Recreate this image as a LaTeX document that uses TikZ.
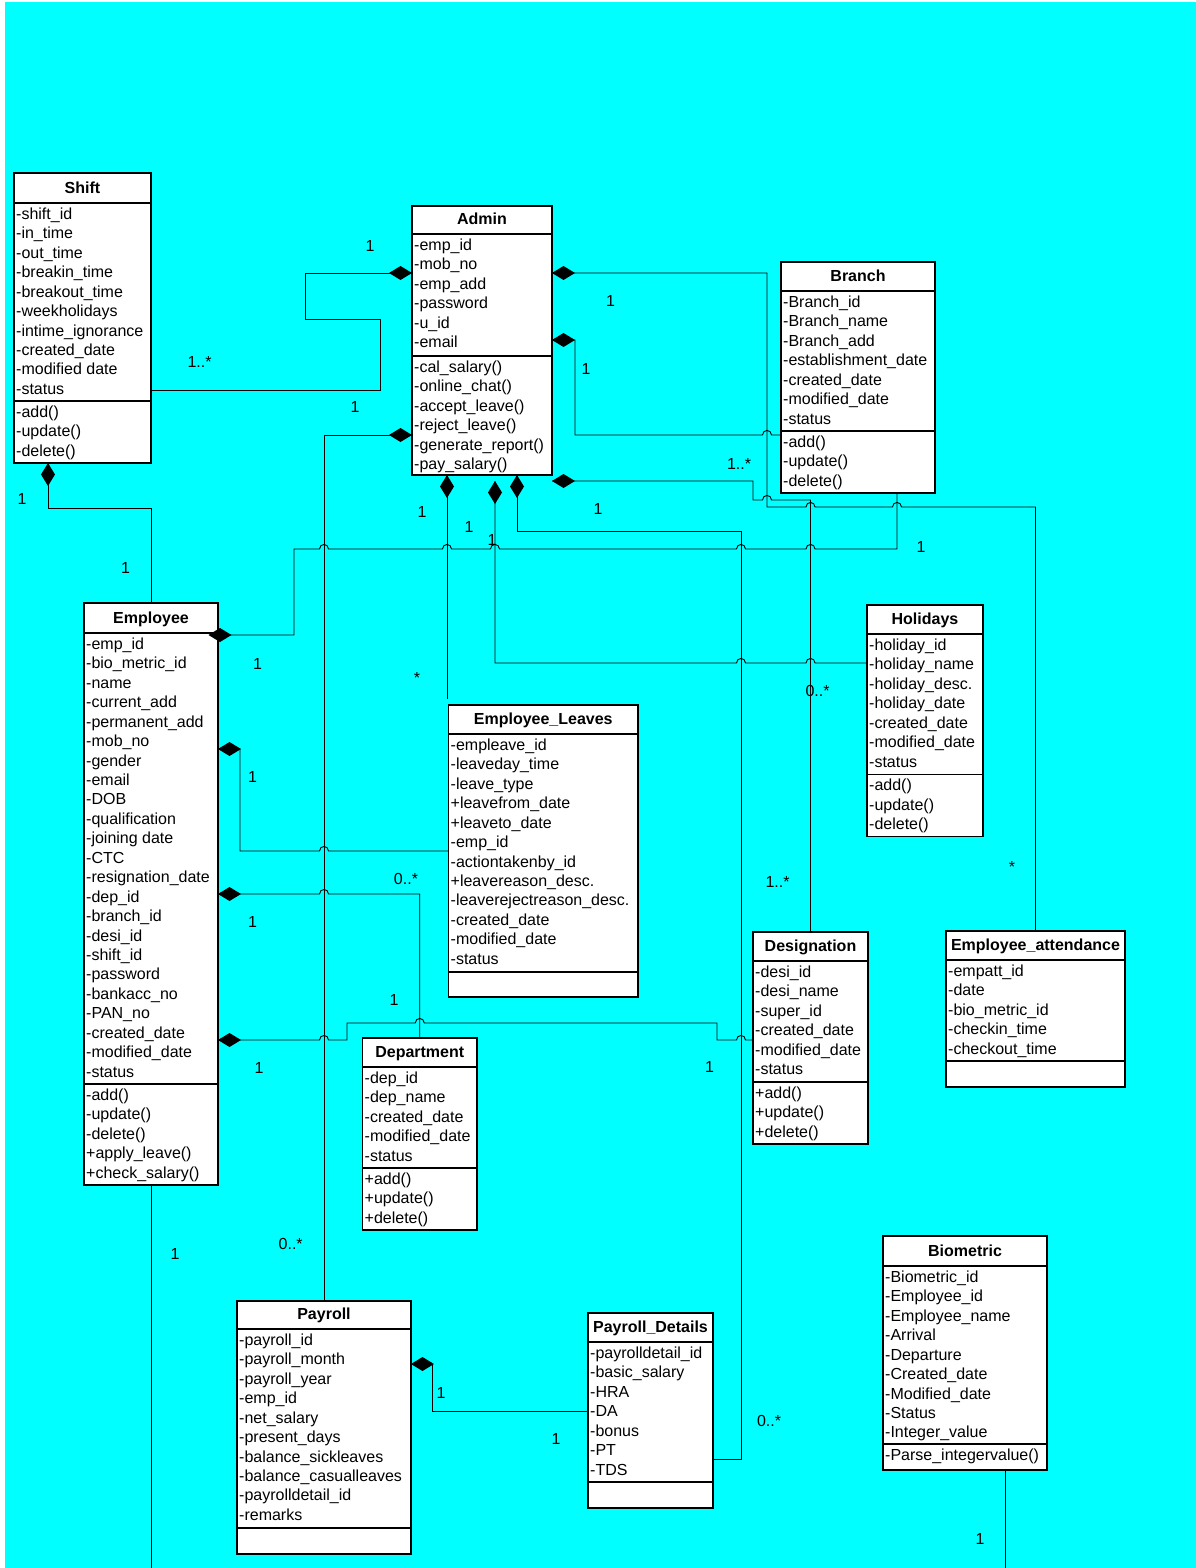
\documentclass[tikz,border=0pt]{standalone}
\usepackage{fontspec}
\setmainfont{Liberation Sans}
\usetikzlibrary{calc}
\definecolor{bgcyan}{HTML}{00FFFF}
\pgfdeclarelayer{bottom}
\pgfdeclarelayer{wires}
\pgfsetlayers{bottom,wires,main}
\tikzset{
  classrect/.style={draw=black, fill=white, line width=1.5pt, inner sep=0pt, outer sep=0pt, anchor=north west},
  sepline/.style={draw=black, line width=1.5pt},
  titletext/.style={anchor=base, inner sep=0pt, font=\fontsize{16}{19}\selectfont\bfseries},
  rowtext/.style={anchor=base west, inner sep=0pt, font=\fontsize{16}{19}\selectfont},
  mult/.style={anchor=base, inner sep=0pt, font=\fontsize{16}{19}\selectfont},
  conn/.style={draw=black, line width=0.9pt},
  diam/.style={fill=black},
  hop/.style args={#1/#2}{insert path={-- ({#1-4.5},#2) .. controls ({#1-4.5},{#2-6}) and ({#1+4.5},{#2-6}) .. ({#1+4.5},#2)}},
}
% #1 name, #2 L, #3 R, #4 T, #5 title line, #6 divider, #7 B, #8 title
\newcommand\classbox[8]{%
  \node[classrect, minimum width={(#3-#2)*1pt}, minimum height={(#7-#4)*1pt}] (#1) at (#2,#4) {};
  \draw[sepline] (#2,#5) -- (#3,#5);
  \draw[sepline] (#2,#6) -- (#3,#6);
  \node[titletext] (#1-title) at ({(#2+#3)/2},{#5-9.5}) {#8};
}
% #1 prefix, #2 L, #3 section top, #4 list
\newcommand\classrows[4]{%
  \foreach \t [count=\i] in {#4} \node[rowtext] (#1-\i) at ({#2+2},{#3+16.4+(\i-1)*19.44}) {\t};
}
\newcommand\diamR[1]{\fill[diam] (#1) -- ++(11.5,7) -- ++(11.5,-7) -- ++(-11.5,-7) -- cycle;}
\newcommand\diamL[1]{\fill[diam] (#1) -- ++(-11.5,7) -- ++(-11.5,-7) -- ++(11.5,-7) -- cycle;}
\newcommand\diamD[1]{\fill[diam] (#1) -- ++(7,11.5) -- ++(-7,11.5) -- ++(-7,-11.5) -- cycle;}
\begin{document}
\begin{tikzpicture}[x=1pt,y=-1pt]
\useasboundingbox (0,0) rectangle (1196,1568);
\begin{pgfonlayer}{bottom}
\fill[white] (0,0) rectangle (1196,1568);
\fill[bgcyan] (5,2) rectangle (1196,1568);
\end{pgfonlayer}

% ---------- class boxes ----------
\classbox{shift}{14}{151}{173}{203}{401}{463}{Shift}
\classrows{shift-a}{14}{203}{-shift\_id,-in\_time,-out\_time,-breakin\_time,-breakout\_time,-weekholidays,-intime\_ignorance,-created\_date,-modified date,-status}
\classrows{shift-m}{14}{401}{-add(),-update(),-delete()}

\classbox{admin}{412}{552}{206}{234}{356}{475}{Admin}
\classrows{admin-a}{412}{234}{-emp\_id,-mob\_no,-emp\_add,-password,-u\_id,-email}
\classrows{admin-m}{412}{356}{-cal\_salary(),-online\_chat(),-accept\_leave(),-reject\_leave(),-generate\_report(),-pay\_salary()}

\classbox{branch}{781}{935}{262}{291}{431}{493}{Branch}
\classrows{branch-a}{781}{291}{-Branch\_id,-Branch\_name,-Branch\_add,-establishment\_date,-created\_date,-modified\_date,-status}
\classrows{branch-m}{781}{431}{-add(),-update(),-delete()}

\classbox{employee}{84}{218}{603}{633}{1084}{1185}{Employee}
\classrows{employee-a}{84}{633}{-emp\_id,-bio\_metric\_id,-name,-current\_add,-permanent\_add,-mob\_no,-gender,-email,-DOB,-qualification,-joining date,-CTC,-resignation\_date,-dep\_id,-branch\_id,-desi\_id,-shift\_id,-password,-bankacc\_no,-PAN\_no,-created\_date,-modified\_date,-status}
\classrows{employee-m}{84}{1084}{-add(),-update(),-delete(),+apply\_leave(),+check\_salary()}

\classbox{emplv}{448.5}{638}{705}{734}{972}{997}{Employee\_Leaves}
\classrows{emplv-a}{448.5}{734}{-empleave\_id,-leaveday\_time,-leave\_type,+leavefrom\_date,+leaveto\_date,-emp\_id,-actiontakenby\_id,+leavereason\_desc.,-leaverejectreason\_desc.,-created\_date,-modified\_date,-status}

\classbox{holid}{867}{983}{605}{634}{774.3}{836.7}{Holidays}
\classrows{holid-a}{867}{634}{-holiday\_id,-holiday\_name,-holiday\_desc.,-holiday\_date,-created\_date,-modified\_date,-status}
\classrows{holid-m}{867}{774.3}{-add(),-update(),-delete()}

\classbox{desig}{753}{868}{932}{961}{1082}{1144}{Designation}
\classrows{desig-a}{753}{961}{-desi\_id,-desi\_name,-super\_id,-created\_date,-modified\_date,-status}
\classrows{desig-m}{753}{1082}{+add(),+update(),+delete()}

\classbox{attend}{946}{1125}{931}{960}{1061}{1087}{Employee\_attendance}
\classrows{attend-a}{946}{960}{-empatt\_id,-date,-bio\_metric\_id,-checkin\_time,-checkout\_time}

\classbox{dept}{362.5}{477}{1038}{1067}{1168}{1230}{Department}
\classrows{dept-a}{362.5}{1067}{-dep\_id,-dep\_name,-created\_date,-modified\_date,-status}
\classrows{dept-m}{362.5}{1168}{+add(),+update(),+delete()}

\classbox{biom}{883}{1047}{1236}{1266}{1444}{1470}{Biometric}
\classrows{biom-a}{883}{1266}{-Biometric\_id,-Employee\_id,-Employee\_name,-Arrival,-Departure,-Created\_date,-Modified\_date,-Status,-Integer\_value}
\classrows{biom-m}{883}{1444}{-Parse\_integervalue()}

\classbox{payroll}{237}{411}{1301}{1329}{1528}{1554}{Payroll}
\classrows{payroll-a}{237}{1329}{-payroll\_id,-payroll\_month,-payroll\_year,-emp\_id,-net\_salary,-present\_days,-balance\_sickleaves,-balance\_casualleaves,-payrolldetail\_id,-remarks}

\classbox{paydet}{588}{713}{1313}{1342}{1482}{1508}{Payroll\_Details}
\classrows{paydet-a}{588}{1342}{-payrolldetail\_id,-basic\_salary,-HRA,-DA,-bonus,-PT,-TDS}

% ---------- connectors (on a layer behind the boxes) ----------
\coordinate (empOut) at (151,1568);
\coordinate (bioOut) at (1005.7,1568);
\begin{pgfonlayer}{wires}
% Shift -- Admin
\draw[conn] (shift.east |- 0,390) -- (380,390) -- (380,319) -- (305,319) -- (305,273) -- (admin.west |- 0,273);
% Admin -- Payroll
\draw[conn] (admin.west |- 0,435) -- (payroll.north |- 0,435) -- (payroll.north);
% Shift -- Employee
\draw[conn] (shift.south -| 48,0) -- (48,508) -- (employee.north |- 0,508) -- (employee.north);
% Admin -- Employee_attendance
\draw[conn] (admin.east |- 0,273) -- (767,273) -- (767,507) [hop=810.5/507] [hop=897/507] -- (attend.north |- 0,507) -- (attend.north);
% Admin -- Branch
\draw[conn] (admin.east |- 0,340) -- (575,340) -- (575,435) [hop=767/435] -- (branch.west |- 0,435);
% Admin -- Designation
\draw[conn] (admin.east |- 0,481) -- (753,481) -- (753,500) [hop=767/500] -- (desig.north |- 0,500) -- (desig.north);
% Employee -- Branch
\draw[conn] (employee.east |- 0,635) -- (294,635) -- (294,549) [hop=324/549] [hop=447/549] [hop=495/549] [hop=741/549] [hop=810.5/549] -- (897,549) -- (branch.south -| 897,0);
% Admin -- Employee_Leaves
\draw[conn] (admin.south -| 447,0) -- ($(emplv.north west)+(-1.5,-6)$);
% Admin -- Holidays
\draw[conn] ($(admin.south -| 495,0)+(0,6)$) -- (495,663) [hop=741/663] [hop=810.5/663] -- (holid.west |- 0,663);
% Admin -- Payroll_Details
\draw[conn] (admin.south -| 517,0) -- (517,531) -- (741,531) -- (741,1459) -- (paydet.east |- 0,1459);
% Employee -- Employee_Leaves
\draw[conn] (employee.east |- 0,749) -- (240,749) -- (240,851) [hop=324/851] -- (emplv.west |- 0,851);
% Employee -- Department
\draw[conn] (employee.east |- 0,894) [hop=324/894] -- (dept.north |- 0,894) -- (dept.north);
% Employee -- Designation
\draw[conn] (employee.east |- 0,1040) [hop=324/1040] -- (347,1040) -- (347,1023) [hop=419.75/1023] -- (717,1023) -- (717,1040) [hop=741/1040] -- (desig.west |- 0,1040);
% Payroll -- Payroll_Details
\draw[conn] (payroll.east |- 0,1364) -- (432,1364) -- (432,1411) -- (paydet.west |- 0,1411);
% Employee and Biometric, running off the bottom edge
\draw[conn] (employee.south) -- (empOut);
\draw[conn] (biom.south -| bioOut) -- (bioOut);
\end{pgfonlayer}

% ---------- composition diamonds ----------
\diamL{admin.west |- 0,273}
\diamL{admin.west |- 0,435}
\diamD{shift.south -| 48,0}
\diamR{admin.east |- 0,273}
\diamR{admin.east |- 0,340}
\diamR{admin.east |- 0,481}
\diamD{admin.south -| 447,0}
\diamD{$(admin.south -| 495,0)+(0,6)$}
\diamD{admin.south -| 517,0}
\diamR{$(employee.east |- 0,635)+(-9.5,0)$}
\diamR{employee.east |- 0,749}
\diamR{employee.east |- 0,894}
\diamR{employee.east |- 0,1040}
\diamR{payroll.east |- 0,1364}

% ---------- multiplicities ----------
\node[mult] (m1) at (370,251) {1};
\node[mult] (m2) at (199.6,367.5) {1..*};
\node[mult] (m3) at (355,412.5) {1};
\node[mult] (m4) at (610.5,306.5) {1};
\node[mult] (m5) at (586,374) {1};
\node[mult] (m6) at (739,469) {1..*};
\node[mult] (m7) at (22,504) {1};
\node[mult] (m8) at (125.5,573.5) {1};
\node[mult] (m9) at (422,517) {1};
\node[mult] (m10) at (469,532) {1};
\node[mult] (m11) at (492,545) {1};
\node[mult] (m12) at (598,514) {1};
\node[mult] (m13) at (921,552) {1};
\node[mult] (m14) at (257.5,669) {1};
\node[mult] (m15) at (417,683) {*};
\node[mult] (m16) at (817.6,696) {0..*};
\node[mult] (m17) at (252.5,782.5) {1};
\node[mult] (m18) at (406,884) {0..*};
\node[mult] (m19) at (777.5,887.5) {1..*};
\node[mult] (m20) at (1012,872) {*};
\node[mult] (m21) at (252.5,927.5) {1};
\node[mult] (m22) at (394,1005) {1};
\node[mult] (m23) at (259,1073.5) {1};
\node[mult] (m24) at (709.5,1072) {1};
\node[mult] (m25) at (175,1259) {1};
\node[mult] (m26) at (290.7,1249) {0..*};
\node[mult] (m27) at (441,1398) {1};
\node[mult] (m28) at (556,1444) {1};
\node[mult] (m29) at (769,1426) {0..*};
\node[mult] (m30) at (980,1544) {1};
\end{tikzpicture}
\end{document}
